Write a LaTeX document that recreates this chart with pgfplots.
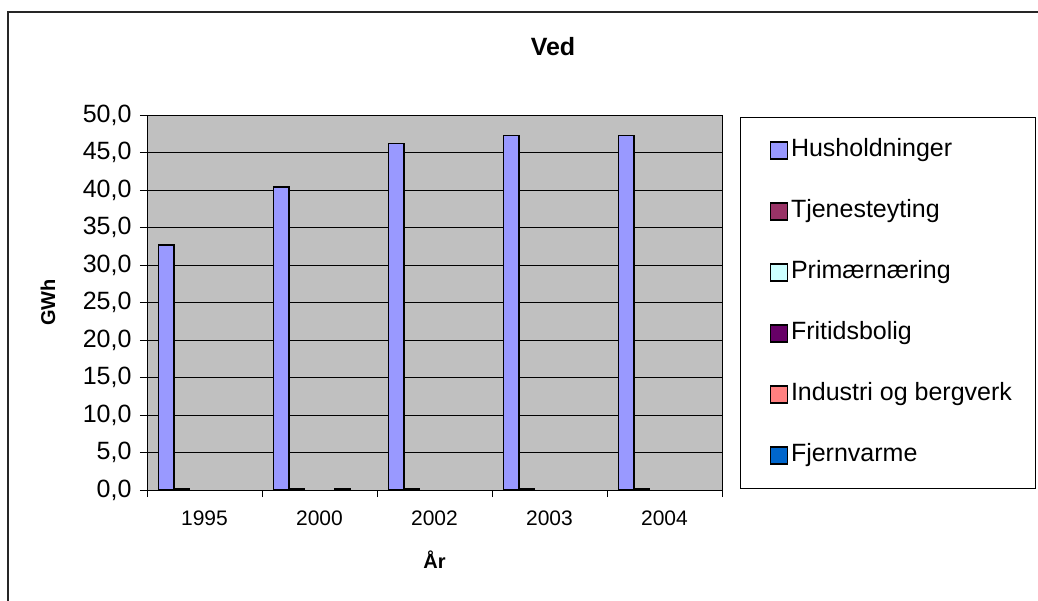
\documentclass[border=0pt]{standalone}
\usepackage{fontspec}
\setmainfont{Liberation Sans}
\usepackage{pgfplots}
\pgfplotsset{compat=1.18}
\definecolor{hus}{RGB}{153,153,255}
\definecolor{tje}{RGB}{153,51,102}
\definecolor{pri}{RGB}{204,255,255}
\definecolor{fri}{RGB}{102,0,102}
\definecolor{ind}{RGB}{255,128,128}
\definecolor{fje}{RGB}{0,102,204}
\definecolor{plotgray}{RGB}{192,192,192}
\pgfplotsset{mybar/.style={ybar, bar width=0.1333, draw=black, line width=1.5pt,
  legend image code/.code={\path (0pt,0pt); \draw[##1,line width=1.5pt] (8pt,-8.5pt) rectangle (25pt,8.5pt);}}}
\begin{document}
\begin{tikzpicture}
\useasboundingbox (0,0) rectangle (1038pt,-600pt);
\fill[white] (0,0) rectangle (1038pt,-600pt);
\draw[line width=2pt, black!85] (8pt,-601pt) -- (8pt,-12pt) -- (1039pt,-12pt);
\node[font=\bfseries\fontsize{25}{30}\selectfont] at (553pt,-47pt) {Ved};
\begin{axis}[
  at={(147pt,-490pt)}, anchor=south west,
  scale only axis, width=575pt, height=375pt,
  xmin=-0.5, xmax=4.5, ymin=0, ymax=50,
  axis background/.style={fill=plotgray},
  axis line style={black, line width=1pt},
  xtick pos=bottom, ytick pos=left,
  xtick={-0.5,0.5,1.5,2.5,3.5,4.5},
  xticklabels={1995,2000,2002,2003,2004,{}},
  x tick label style={xshift=57.5pt, font=\fontsize{21}{25}\selectfont, yshift=-10pt},
  ytick={0,5,...,50},
  y tick label style={font=\fontsize{25}{29}\selectfont, xshift=-5pt},
  yticklabel style={/pgf/number format/fixed, /pgf/number format/fixed zerofill,
     /pgf/number format/precision=1, /pgf/number format/use comma,
     /pgf/number format/assume math mode=true},
  tick align=outside, major tick length=7pt,
  tick style={black, line width=1pt},
  ymajorgrids, grid style={black, line width=1pt},
  xlabel={År}, ylabel={GWh},
  xlabel style={font=\bfseries\fontsize{20}{24}\selectfont, at={(axis description cs:0.5,-0.187)}, anchor=center},
  ylabel style={font=\bfseries\fontsize{20}{24}\selectfont, at={(axis description cs:-0.172,0.5)}, anchor=center, rotate=0},
  legend style={at={(1.0313,0.9947)}, anchor=north west, draw=black, line width=1pt,
     fill=white, inner xsep=21pt, inner ysep=22pt, row sep=39pt,
     nodes={inner xsep=3pt, inner ysep=0pt, text height=17pt, text depth=5pt},
     font=\fontsize{25}{29}\selectfont},
  legend cell align=left,
  clip=false,
]
\addplot[mybar, fill=hus, bar shift=-0.3333] coordinates {(0,32.7) (1,40.4) (2,46.2) (3,47.3) (4,47.3)};
\addlegendentry{Husholdninger}
\addplot[mybar, fill=tje, bar shift=-0.2] coordinates {(0,0.2) (1,0.2) (2,0.2) (3,0.2) (4,0.2)};
\addlegendentry{Tjenesteyting}
\addlegendimage{mybar, fill=pri}
\addlegendentry{Primærnæring}
\addlegendimage{mybar, fill=fri}
\addlegendentry{Fritidsbolig}
\addplot[mybar, fill=ind, bar shift=0.2] coordinates {(1,0.2)};
\addlegendentry{Industri og bergverk}
\addlegendimage{mybar, fill=fje}
\addlegendentry{Fjernvarme}
\end{axis}
\end{tikzpicture}
\end{document}
